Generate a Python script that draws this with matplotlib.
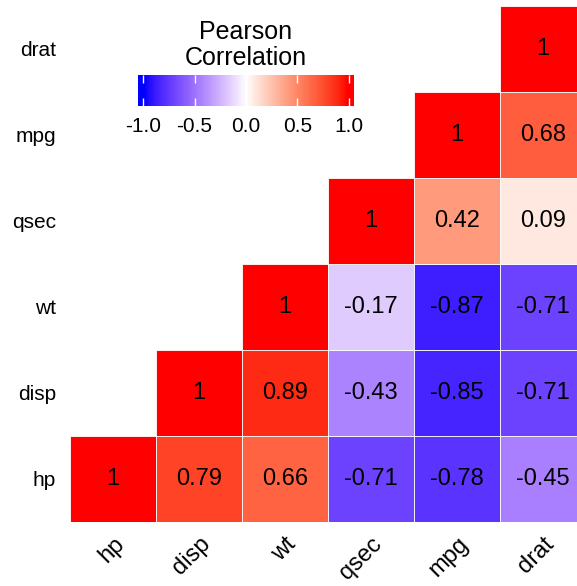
import numpy as np
import matplotlib
matplotlib.use("Agg")
import matplotlib.pyplot as plt
from matplotlib.colors import ListedColormap, Normalize
from matplotlib.patches import Rectangle

plt.rcParams['font.family'] = ['Liberation Sans', 'DejaVu Sans']

variables = ["hp", "disp", "wt", "qsec", "mpg", "drat"]
# upper-triangle correlations: row variable -> values for columns from itself to "drat"
corr_hp = [1, 0.79, 0.66, -0.71, -0.78, -0.45]
corr_disp = [1, 0.89, -0.43, -0.85, -0.71]
corr_wt = [1, -0.17, -0.87, -0.71]
corr_qsec = [1, 0.42, 0.09]
corr_mpg = [1, 0.68]
corr_drat = [1]
rows = [corr_hp, corr_disp, corr_wt, corr_qsec, corr_mpg, corr_drat]
legend_ticks = [-1.0, -0.5, 0.0, 0.5, 1.0]


# ---- Lab-space diverging gradient (blue - white - red)
def srgb_to_lab(rgb):
    rgb = np.asarray(rgb, float)
    lin = np.where(rgb <= 0.04045, rgb / 12.92, ((rgb + 0.055) / 1.055) ** 2.4)
    M = np.array([[0.4124564, 0.3575761, 0.1804375],
                  [0.2126729, 0.7151522, 0.0721750],
                  [0.0193339, 0.1191920, 0.9503041]])
    xyz = M @ lin
    wp = np.array([0.95047, 1.0, 1.08883])
    t = xyz / wp
    d = 6 / 29
    f = np.where(t > d ** 3, np.cbrt(t), t / (3 * d ** 2) + 4 / 29)
    return np.array([116 * f[1] - 16, 500 * (f[0] - f[1]), 200 * (f[1] - f[2])])


def lab_to_srgb(lab):
    L, a, b = lab
    fy = (L + 16) / 116
    f = np.array([fy + a / 500, fy, fy - b / 200])
    d = 6 / 29
    t = np.where(f > d, f ** 3, 3 * d ** 2 * (f - 4 / 29))
    xyz = t * np.array([0.95047, 1.0, 1.08883])
    Minv = np.array([[3.2404542, -1.5371385, -0.4985314],
                     [-0.9692660, 1.8760108, 0.0415560],
                     [0.0556434, -0.2040259, 1.0572252]])
    lin = np.clip(Minv @ xyz, 0, 1)
    rgb = np.where(lin <= 0.0031308, 12.92 * lin, 1.055 * lin ** (1 / 2.4) - 0.055)
    return np.clip(rgb, 0, 1)


lab_blue = srgb_to_lab([0, 0, 1])
lab_white = srgb_to_lab([1, 1, 1])
lab_red = srgb_to_lab([1, 0, 0])
cols = []
for v in np.linspace(-1, 1, 256):
    t = 1 - (1 - abs(v)) ** 1.35
    end = lab_blue if v < 0 else lab_red
    cols.append(lab_to_srgb(lab_white + (end - lab_white) * t))
cmap = ListedColormap(cols)
norm = Normalize(-1, 1)

W, H = 577, 586
fig = plt.figure(figsize=(W / 100, H / 100), dpi=100)
ax = fig.add_axes([70 / W, (H - 522) / H, 516 / W, 516 / H])

n = len(variables)
for i, rv in enumerate(rows):
    for k, val in enumerate(rv):
        j = i + k
        ax.add_patch(Rectangle((j - 0.5, i - 0.5), 1, 1, facecolor=cmap(norm(val)),
                               edgecolor="white", linewidth=0.6))
        ax.text(j, i, f"{val:g}", ha="center", va="center", fontsize=17, color="black")

ax.set_xlim(-0.5, n - 0.5)
ax.set_ylim(-0.5, n - 0.5)
ax.set_xticks(range(n))
ax.set_yticks(range(n))
ax.set_xticklabels(variables, rotation=45, ha="right", va="top",
                   rotation_mode="anchor", fontsize=17)
ax.set_yticklabels(variables, fontsize=15)
ax.tick_params(length=0, pad=10)
ax.tick_params(axis="x", pad=8)
for s in ax.spines.values():
    s.set_visible(False)

# legend colorbar
lo, hi = -1.049, 1.049
cax = fig.add_axes([138 / W, (H - 106) / H, 216 / W, 31 / H])
grad = np.linspace(lo, hi, 300)
cax.imshow(grad[None, :], aspect="auto", cmap=cmap, norm=norm, extent=(lo, hi, 0, 1))
cax.set_xlim(lo, hi)
cax.set_ylim(0, 1)
cax.set_yticks([])
cax.set_xticks(legend_ticks)
cax.set_xticklabels([f"{t:.1f}" for t in legend_ticks], fontsize=15)
cax.tick_params(axis="x", direction="in", color="white", length=6, width=1,
                top=True, bottom=True, pad=8)
for s in cax.spines.values():
    s.set_visible(False)
fig.text(246 / W, 1 - 45 / H, "Pearson\nCorrelation", ha="center", va="center",
         fontsize=18, linespacing=1.1)

fig.savefig("out.png", dpi=100)
